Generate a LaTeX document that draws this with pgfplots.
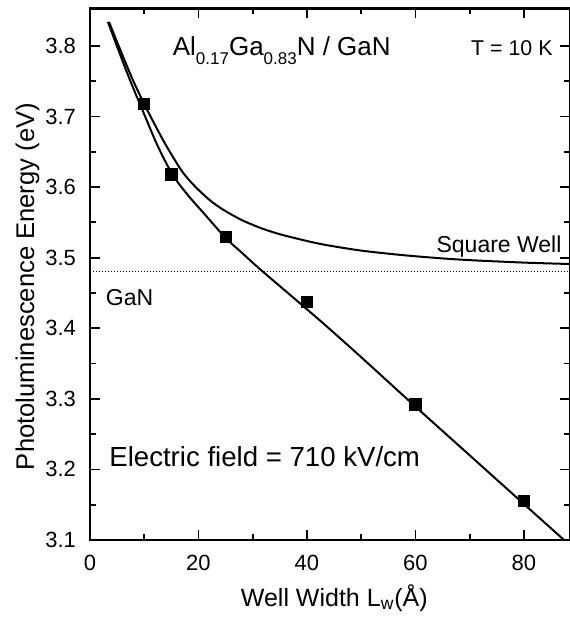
\documentclass[border=0pt]{standalone}
\usepackage{fontspec}
\setmainfont{Liberation Sans}
\usepackage{pgfplots}
\pgfplotsset{compat=1.18}

\newcommand{\sub}[1]{\raisebox{-4.5pt}{\fontsize{8.5}{9}\selectfont #1}}

\begin{document}
\begin{tikzpicture}
\begin{axis}[
    name=ax,
    scale only axis,
    width=240pt, height=265.75pt,
    xmin=0, xmax=88.5,
    ymin=3.1, ymax=3.853,
    xtick={0,20,...,80},
    ytick={3.1,3.2,...,3.8},
    minor x tick num=1,
    minor y tick num=1,
    tick align=inside,
    major tick length=5pt,
    minor tick length=3pt,
    axis line style={line width=1.2pt},
    every tick/.style={black, line width=0.9pt},
    tick label style={font=\fontsize{11}{13}\selectfont},
    /pgf/number format/assume math mode=true,
    /pgf/number format/fixed,
    /pgf/number format/precision=1,
    /pgf/number format/fixed zerofill,
    xticklabel={\pgfmathprintnumber[fixed,precision=0]{\tick}},
    yticklabel style={xshift=-3.5pt},
    xticklabel style={yshift=-3.8pt},
    xlabel={Well Width L\textsubscript{w}(Å)},
    ylabel={Photoluminescence Energy (eV)},
    xlabel style={font=\fontsize{12.5}{15}\selectfont,
        at={(axis description cs:0.509,-0.109)}, anchor=center},
    ylabel style={font=\fontsize{12.8}{15}\selectfont,
        at={(axis description cs:-0.13,0.477)}, anchor=center},
    clip=false,
]
% GaN band gap
\addplot[densely dotted, line width=0.5pt] coordinates {(0,3.48) (88.5,3.48)};
% square well calculation
\addplot[smooth, line width=1pt] coordinates {
    (3.5,3.834)(5.5,3.796)(8,3.750)(10.5,3.710)(12.5,3.6805)(14.1,3.658)
    (17,3.622)(19.35,3.601)(22,3.582)(24,3.5707)(26.1,3.561)(28,3.5532)
    (30,3.5465)(32,3.5405)(35,3.5332)(38.7,3.526)(41.5,3.521)(44.2,3.517)
    (50,3.510)(57.1,3.504)(64,3.4995)(70,3.4965)(80,3.493)(88.5,3.491)
};
% with electric field
\addplot[smooth, line width=1pt] coordinates {
    (3.3,3.834)(5.1,3.797)(7.4,3.751)(10,3.703)(12.5,3.658)(15.2,3.618)
    (18,3.589)(21.2,3.561)(25,3.528)(28,3.507)(31.6,3.482)(42.1,3.413)
    (50,3.359)(60,3.289)(70,3.220)(80,3.151)(87.4,3.1)
};
% measured PL peaks
\addplot[only marks, mark=square*, mark size=2.8pt] coordinates {
    (10,3.718)(15,3.618)(25,3.529)(40,3.437)(60,3.292)(80,3.155)
};
\node[inner sep=0pt, anchor=base west, font=\fontsize{13}{15}\selectfont]
    at (axis cs:15.2,3.787) {Al\sub{0.17}Ga\sub{0.83}N / GaN};
\node[inner sep=0pt, anchor=base west, font=\fontsize{10.7}{13}\selectfont]
    at (axis cs:70.2,3.787) {T = 10 K};
\node[inner sep=0pt, anchor=base east, font=\fontsize{11.5}{14}\selectfont]
    at (axis cs:87,3.5074) {Square Well};
\node[inner sep=0pt, anchor=base west, font=\fontsize{11.5}{14}\selectfont]
    at (axis cs:2.86,3.432) {GaN};
\node[inner sep=0pt, anchor=base west, font=\fontsize{13.8}{16}\selectfont]
    at (axis cs:3.5,3.204) {Electric field = 710 kV/cm};
\end{axis}
\pgfresetboundingbox
\path ([xshift=-45pt,yshift=-40pt]ax.south west) rectangle ([yshift=4.25pt]ax.north east);
\end{tikzpicture}
\end{document}
